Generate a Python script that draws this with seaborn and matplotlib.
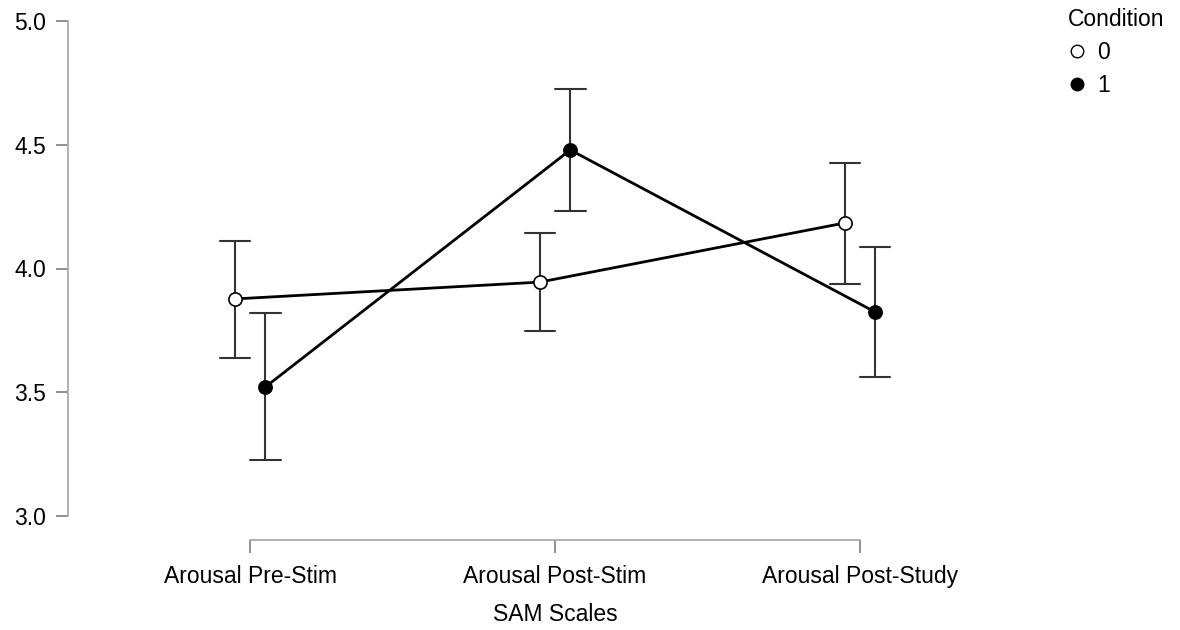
import matplotlib
matplotlib.use("Agg")
import matplotlib.pyplot as plt
from matplotlib.lines import Line2D
import pandas as pd
import seaborn as sns

# descriptives: mean and 95% CI bounds per condition
scales = ["Arousal Pre-Stim", "Arousal Post-Stim", "Arousal Post-Study"]
conditions = ["0", "1"]
mean_0 = [3.877, 3.945, 4.184]
lower_0 = [3.638, 3.747, 3.937]
upper_0 = [4.111, 4.143, 4.426]
mean_1 = [3.521, 4.479, 3.824]
lower_1 = [3.226, 4.232, 3.562]
upper_1 = [3.820, 4.725, 4.087]
y_ticks = [3.0, 3.5, 4.0, 4.5, 5.0]

# long table: lower / mean / upper rows, so median = mean and 100% interval = CI
rows = []
for cond, means, lows, highs in [("0", mean_0, lower_0, upper_0),
                                 ("1", mean_1, lower_1, upper_1)]:
    for s, m, lo, hi in zip(scales, means, lows, highs):
        for v in (lo, m, hi):
            rows.append({"SAM Scales": s, "value": v, "Condition": cond})
df = pd.DataFrame(rows)

sns.set_theme(style="white")
plt.rcParams["font.family"] = ["Liberation Sans", "DejaVu Sans"]
plt.rcParams["text.color"] = "black"

fig = plt.figure(figsize=(11.8, 6.3), dpi=100)
ax = fig.add_axes([68 / 1180, 1 - 540 / 630, (1000 - 68) / 1180, (540 - 12) / 630])

sns.pointplot(data=df, x="SAM Scales", y="value", hue="Condition",
              hue_order=conditions, order=scales,
              estimator="median", errorbar=("pi", 100),
              dodge=0.1, palette=["black", "black"], markers="o",
              linestyles="-", capsize=0.1, linewidth=2, markersize=9.5,
              err_kws={"linewidth": 1.5, "color": "#333333"},
              legend=False, ax=ax)

marker_lines = [l for l in ax.lines if l.get_marker() == "o"]
marker_lines[0].set_markerfacecolor("white")
for l in marker_lines:
    l.set_markeredgecolor("black")
    l.set_markeredgewidth(1.2)
    l.set_zorder(5)

px = 305.0  # pixels per category step
ax.set_xlim(-182 / px, 2 + 140 / px)
ax.set_ylim(5 - 519 / 247.5, 5 + 9 / 247.5)
ax.set_yticks(y_ticks)
ax.set_yticklabels([f"{t:.1f}" for t in y_ticks])

for side in ["top", "right"]:
    ax.spines[side].set_visible(False)
for side in ["left", "bottom"]:
    ax.spines[side].set_color("#aaaaaa")
    ax.spines[side].set_linewidth(1.3)
ax.spines["left"].set_bounds(3.0, 5.0)
ax.spines["bottom"].set_bounds(0, 2)

ax.tick_params(axis="both", which="major", length=9, width=1.3, color="#888888",
               labelsize=16.5, labelcolor="black", direction="out",
               left=True, bottom=True)
ax.tick_params(axis="y", pad=7)
ax.tick_params(axis="x", pad=9)
ax.set_ylabel("")
ax.set_xlabel("SAM Scales", fontsize=16.5, color="black")
# centre the axis title under the middle category
ax.xaxis.set_label_coords(1.0, -0.12, transform=ax.get_xaxis_transform())
ax.grid(False)

handles = [
    Line2D([], [], marker="o", linestyle="none", markerfacecolor="white",
           markeredgecolor="black", markersize=9),
    Line2D([], [], marker="o", linestyle="none", markerfacecolor="black",
           markeredgecolor="black", markersize=9),
]
leg = fig.legend(handles, conditions, title="Condition", loc="upper left",
                 bbox_to_anchor=(1054 / 1180, 1 + 6 / 630), frameon=False,
                 fontsize=16.5, title_fontsize=16.5, alignment="left",
                 handlelength=0.8, handletextpad=0.5, labelspacing=0.45,
                 borderaxespad=0.2)
for t in leg.get_texts():
    t.set_color("black")
leg.get_title().set_color("black")

fig.savefig("out.png", dpi=100)
